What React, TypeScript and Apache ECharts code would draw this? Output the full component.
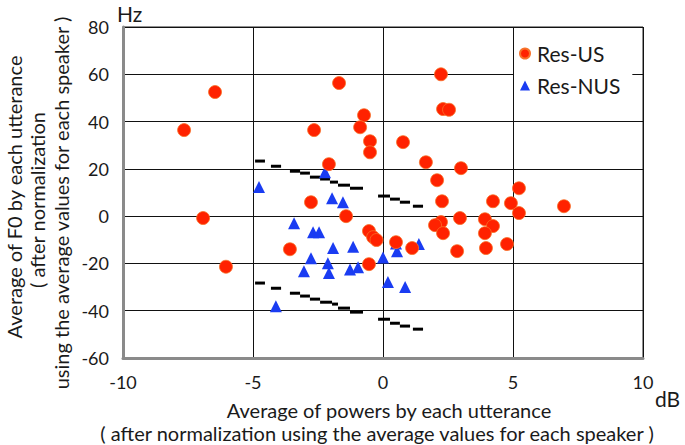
import React, { useEffect, useRef } from "react";
import * as echarts from "echarts";

const xTicks = [-10, -5, 0, 5, 10];
const yTicks = [-60, -40, -20, 0, 20, 40, 60, 80];

const resUS: [number, number][] = [
  [-7.65, 36.4], [-6.46, 52.5], [-1.69, 56.3], [-2.65, 36.4], [-0.73, 42.7], [-0.88, 37.6],
  [-0.5, 31.7], [-0.5, 27.0], [-2.08, 22.0], [2.23, 60.0], [2.31, 45.3], [2.54, 45.0],
  [0.77, 31.3], [1.65, 22.8], [3.0, 20.3], [2.08, 15.2], [5.23, 11.8], [2.27, 6.3],
  [4.23, 6.3], [4.92, 5.5], [6.96, 4.2], [5.23, 1.3], [2.23, -2.5], [2.0, -3.8],
  [2.96, -0.8], [3.92, -1.3], [4.23, -4.2], [2.31, -7.2], [3.92, -7.2], [4.77, -11.8],
  [3.96, -13.5], [2.85, -14.8], [1.12, -13.5], [0.5, -11.0], [-0.54, -6.3], [-0.38, -8.9],
  [-0.25, -10.1], [-2.77, 5.9], [-1.42, 0], [-6.92, -0.8], [-3.58, -14.0], [-6.04, -21.4],
  [-0.54, -20.3],
];

const resNUS: [number, number][] = [
  [-4.77, 12.3], [-2.23, 18.6], [-1.96, 7.6], [-1.54, 5.9], [-3.42, -3.0], [-2.69, -6.8],
  [-2.46, -6.8], [-1.92, -13.5], [-1.15, -12.9], [-2.77, -17.8], [-2.12, -19.9], [-3.04, -23.3],
  [-2.08, -24.1], [-1.27, -22.6], [-0.96, -21.6], [-4.12, -38.1], [1.38, -11.8], [0.5, -11.6],
  [0.54, -14.8], [0, -17.5], [0.19, -27.9], [0.85, -30.0],
];

// dash segments: [xStart, xEnd, y]
const upperDashes: [number, number, number][] = [
  [-4.92, -4.54, 23.3], [-4.31, -3.92, 21.1], [-3.58, -3.19, 19.0], [-3.19, -2.81, 18.2],
  [-2.81, -2.42, 16.5], [-2.42, -2.04, 15.7], [-2.04, -1.73, 14.4], [-1.73, -1.27, 13.1],
  [-1.27, -0.77, 11.8], [-0.19, 0.27, 8.5], [0.27, 0.65, 7.2], [0.65, 1.04, 5.9],
  [1.15, 1.54, 4.2],
];
const lowerDashes: [number, number, number][] = [
  [-4.92, -4.54, -28.3], [-4.31, -3.92, -30.5], [-3.58, -3.19, -32.6], [-3.19, -2.81, -33.8],
  [-2.81, -2.42, -35.1], [-2.42, -1.96, -36.4], [-1.96, -1.73, -37.2], [-1.73, -1.27, -38.9],
  [-1.27, -0.77, -40.6], [-0.19, 0.27, -43.6], [0.27, 0.65, -45.3], [0.65, 1.04, -46.5],
  [1.15, 1.54, -47.8],
];

const FONT = "Lato, 'Noto Sans', sans-serif";
const TXT = "#1a1a1a";
const TITLE = `20px ${FONT}`;

export default function App() {
  const ref = useRef<HTMLDivElement>(null);
  useEffect(() => {
    document.body.style.margin = "0";
    if (!ref.current) return;
    const chart = echarts.init(ref.current, null, { renderer: "svg" });
    const dashRender = (params: any, api: any) => {
      const a = api.coord([api.value(0), api.value(2)]);
      const b = api.coord([api.value(1), api.value(2)]);
      return {
        type: "line",
        shape: { x1: a[0], y1: a[1], x2: b[0], y2: b[1] },
        style: { stroke: "#000", lineWidth: 3 },
      };
    };
    chart.setOption({
      animation: false,
      backgroundColor: "#fff",
      grid: { left: 123, right: 42, top: 27, bottom: 87, show: true, borderColor: "#222", borderWidth: 1 },
      xAxis: {
        type: "value",
        min: xTicks[0],
        max: xTicks[xTicks.length - 1],
        interval: 5,
        axisLine: { show: true, onZero: false, lineStyle: { color: "#8a8a8a", width: 3 } },
        axisTick: { show: false },
        splitLine: { show: true, lineStyle: { color: "#111", width: 1 } },
        axisLabel: { fontFamily: FONT, fontSize: 18, color: TXT, margin: 15 },
      },
      yAxis: {
        type: "value",
        min: yTicks[0],
        max: yTicks[yTicks.length - 1],
        interval: 20,
        axisLine: { show: true, onZero: false, lineStyle: { color: "#8a8a8a", width: 3 } },
        axisTick: { show: false },
        splitLine: { show: true, lineStyle: { color: "#111", width: 1 } },
        axisLabel: { fontFamily: FONT, fontSize: 18, color: TXT, margin: 14 },
      },
      legend: {
        data: ["Res-US", "Res-NUS"],
        orient: "vertical",
        left: 514,
        top: 38,
        padding: [5, 12, 6, 5],
        itemGap: 11,
        itemWidth: 10,
        itemHeight: 10,
        backgroundColor: "#fff",
        textStyle: { fontFamily: FONT, fontSize: 21, color: TXT, padding: [0, 0, 0, 2] },
      },
      series: [
        {
          type: "custom",
          name: "upper",
          renderItem: dashRender,
          data: upperDashes,
          z: 3,
          silent: true,
        },
        {
          type: "custom",
          name: "lower",
          renderItem: dashRender,
          data: lowerDashes,
          z: 3,
          silent: true,
        },
        {
          type: "scatter",
          name: "Res-NUS",
          symbol: "triangle",
          symbolSize: 12,
          itemStyle: { color: "#1a3cf2", opacity: 1 },
          data: resNUS,
          z: 4,
        },
        {
          type: "scatter",
          name: "Res-US",
          symbol: "circle",
          symbolSize: 13,
          itemStyle: { color: "#ff2200", borderColor: "#f7722a", borderWidth: 0.8, opacity: 1 },
          data: resUS,
          z: 5,
        },
      ],
      graphic: [
        { type: "text", left: 117, top: 3, style: { text: "Hz", font: `21px ${FONT}`, fill: TXT } },
        { type: "text", left: 655, top: 388, style: { text: "dB", font: `21px ${FONT}`, fill: TXT } },
        {
          type: "text",
          x: 389,
          y: 410,
          style: { text: "Average of powers by each utterance", font: TITLE, fill: TXT, align: "center", verticalAlign: "middle" },
        },
        {
          type: "text",
          x: 377,
          y: 433,
          style: { text: "( after normalization using the average values for each speaker )", font: TITLE, fill: TXT, align: "center", verticalAlign: "middle" },
        },
        {
          type: "text",
          x: 14,
          y: 197,
          rotation: Math.PI / 2,
          style: { text: "Average of F0 by each utterance", font: TITLE, fill: TXT, align: "center", verticalAlign: "middle" },
        },
        {
          type: "text",
          x: 37,
          y: 200,
          rotation: Math.PI / 2,
          style: { text: "( after normalization", font: TITLE, fill: TXT, align: "center", verticalAlign: "middle" },
        },
        {
          type: "text",
          x: 61,
          y: 203,
          rotation: Math.PI / 2,
          style: { text: "using the average values for each speaker )", font: TITLE, fill: TXT, align: "center", verticalAlign: "middle" },
        },
      ],
    });
    return () => chart.dispose();
  }, []);
  return <div ref={ref} style={{ width: 685, height: 445 }} />;
}
